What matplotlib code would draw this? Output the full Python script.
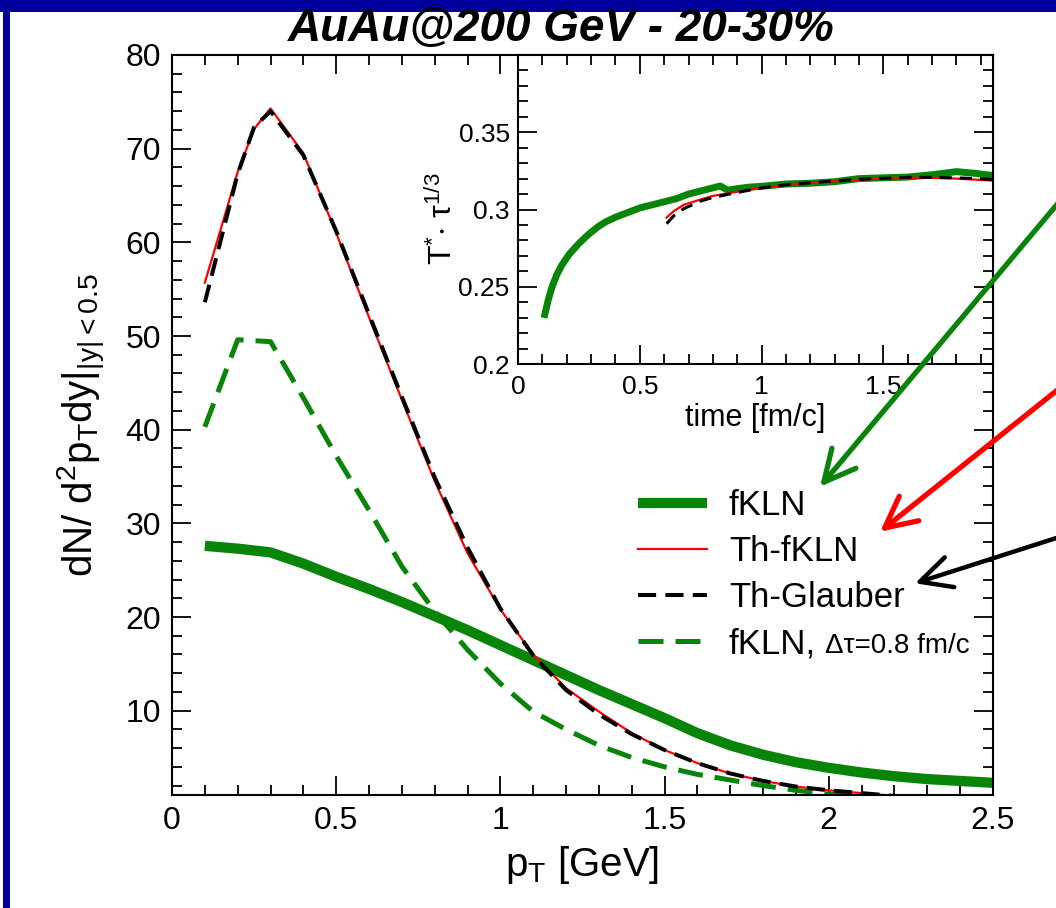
import matplotlib
matplotlib.use("Agg")
import matplotlib.pyplot as plt
from matplotlib.ticker import MultipleLocator, FormatStrFormatter, FixedLocator
from matplotlib.patches import Rectangle

plt.rcParams['font.family'] = ['Liberation Sans', 'DejaVu Sans']
plt.rcParams['mathtext.default'] = 'regular'

# spectra, pT in GeV
pt_fkln = [0.1, 0.2, 0.3, 0.4, 0.5, 0.6, 0.7, 0.8, 0.9, 1.0, 1.1, 1.2, 1.3,
           1.4, 1.5, 1.6, 1.7, 1.8, 1.9, 2.0, 2.1, 2.2, 2.3, 2.4, 2.5]
y_fkln = [27.6, 27.3, 26.9, 25.7, 24.3, 23.0, 21.6, 20.1, 18.6, 17.0, 15.4, 13.8, 12.2,
          10.7, 9.2, 7.6, 6.3, 5.3, 4.5, 3.9, 3.4, 3.0, 2.7, 2.5, 2.3]

pt_th = [0.1, 0.2, 0.25, 0.3, 0.4, 0.5, 0.6, 0.7, 0.8, 0.9, 1.0, 1.1, 1.2,
         1.3, 1.4, 1.5, 1.6, 1.7, 1.8, 1.9, 2.0, 2.1, 2.2]
y_thfkln = [55.7, 67.5, 72.1, 74.3, 69.5, 61.0, 52.0, 43.2, 34.5, 26.8, 20.8, 16.0, 12.4,
            9.9, 7.6, 5.8, 4.4, 3.3, 2.5, 1.9, 1.5, 1.2, 0.9]
y_thglau = [53.6, 67.3, 72.3, 74.0, 69.3, 61.2, 52.3, 43.5, 34.9, 27.4, 20.9, 15.9, 12.2,
            9.6, 7.5, 5.8, 4.4, 3.3, 2.5, 1.9, 1.5, 1.2, 0.9]

pt_dt = [0.1, 0.2, 0.3, 0.4, 0.5, 0.6, 0.7, 0.8, 0.9, 1.0, 1.1, 1.2, 1.3,
         1.4, 1.5, 1.6, 1.7, 1.8, 1.9, 2.0, 2.1]
y_dt = [40.3, 49.6, 49.4, 43.4, 37.2, 31.4, 25.4, 20.6, 16.5, 12.9, 9.9, 8.0, 6.3,
        5.0, 4.0, 3.2, 2.6, 2.0, 1.5, 1.1, 0.8]

# inset: T* tau^(1/3) vs time
t_fkln = [0.11, 0.125, 0.14, 0.16, 0.18, 0.21, 0.25, 0.29, 0.33, 0.36, 0.40, 0.45, 0.50,
          0.55, 0.60, 0.65, 0.70, 0.75, 0.80, 0.83, 0.86, 0.90, 0.95, 1.00, 1.10, 1.20,
          1.30, 1.40, 1.50, 1.60, 1.70, 1.80, 1.87, 1.95]
T_fkln = [0.232, 0.242, 0.250, 0.258, 0.264, 0.271, 0.278, 0.284, 0.289, 0.292, 0.295,
          0.298, 0.301, 0.303, 0.305, 0.307, 0.310, 0.312, 0.314, 0.3152, 0.3125, 0.3135,
          0.3145, 0.315, 0.3165, 0.317, 0.318, 0.320, 0.3205, 0.321, 0.3225, 0.3245,
          0.3235, 0.322]
t_th = [0.61, 0.64, 0.68, 0.75, 0.80, 0.90, 1.0, 1.1, 1.2, 1.3, 1.4, 1.5, 1.6, 1.7, 1.8, 1.95]
T_thfkln = [0.2948, 0.299, 0.303, 0.3065, 0.3088, 0.3115, 0.314, 0.316, 0.3172, 0.3183,
            0.3193, 0.320, 0.3205, 0.3205, 0.320, 0.3187]
T_thglau = [0.2908, 0.296, 0.3005, 0.3055, 0.3078, 0.311, 0.314, 0.316, 0.3173, 0.3185,
            0.3195, 0.3202, 0.3208, 0.3208, 0.3205, 0.3195]

GREEN = '#088508'
RED = '#ff0000'
BLUE = '#00009c'

W, H = 1056, 908
fig = plt.figure(figsize=(W / 100, H / 100), dpi=100)

# blue slide frame
fig.add_artist(Rectangle((0, 1 - 12 / H), 1, 12 / H, transform=fig.transFigure,
                         color=BLUE, lw=0, zorder=0))
fig.add_artist(Rectangle((3 / W, 0), 7 / W, 1, transform=fig.transFigure,
                         color=BLUE, lw=0, zorder=0))

def px_box(x0, y0, x1, y1):
    return [x0 / W, 1 - y1 / H, (x1 - x0) / W, (y1 - y0) / H]

def style_axes(a, size, lw=1.5):
    for s in a.spines.values():
        s.set_linewidth(lw)
    a.tick_params(which='both', direction='in', top=True, right=True, width=1.3)
    a.tick_params(which='major', length=14, labelsize=size)
    a.tick_params(which='minor', length=7)

ax = fig.add_axes(px_box(172, 55, 993, 795))
ax.plot(pt_fkln, y_fkln, color=GREEN, lw=7.4, solid_capstyle='butt', label='fKLN')
ax.plot(pt_dt, y_dt, color=GREEN, lw=3.6, dashes=(5, 2.4), label='fKLN,')
ax.plot(pt_th, y_thfkln, color=RED, lw=1.6, label='Th-fKLN')
ax.plot(pt_th, y_thglau, color='black', lw=2.9, dashes=(4.5, 2.3), label='Th-Glauber')
ax.set_xlim(0, 2.5)
ax.set_ylim(1, 80)
ax.xaxis.set_major_locator(MultipleLocator(0.5))
ax.xaxis.set_minor_locator(MultipleLocator(0.1))
ax.xaxis.set_major_formatter(FormatStrFormatter('%g'))
ax.yaxis.set_major_locator(FixedLocator([10, 20, 30, 40, 50, 60, 70, 80]))
ax.yaxis.set_minor_locator(MultipleLocator(2))
style_axes(ax, 23)
ax.tick_params(axis='both', which='major', pad=8)
ax.set_xlabel('p$_{T}$ [GeV]', fontsize=29)
ax.xaxis.set_label_coords(0.5, -0.066)
ax.set_ylabel('dN/ d$^{2}$p$_{T}$dy|$_{|y|<0.5}$', fontsize=29)
ax.yaxis.set_label_coords(-0.078, 0.5)

h, l = ax.get_legend_handles_labels()
order = [0, 2, 3, 1]
leg = ax.legend([h[i] for i in order], [l[i] for i in order], loc='upper left',
                bbox_to_anchor=((638 - 172) / 821, (795 - 489) / 740), frameon=False,
                fontsize=25, handlelength=2.0, handletextpad=0.62, labelspacing=0.38,
                borderpad=0, borderaxespad=0)

# inset
ins = fig.add_axes(px_box(518, 55, 993, 364))
ins.plot(t_fkln, T_fkln, color=GREEN, lw=5)
ins.plot(t_th, T_thfkln, color=RED, lw=1.6)
ins.plot(t_th, T_thglau, color='black', lw=2.2, dashes=(4, 2.6))
ins.set_xlim(0, 1.95)
ins.set_ylim(0.2, 0.4)
ins.xaxis.set_major_locator(FixedLocator([0, 0.5, 1, 1.5]))
ins.xaxis.set_minor_locator(MultipleLocator(0.1))
ins.xaxis.set_major_formatter(FormatStrFormatter('%g'))
ins.yaxis.set_major_locator(FixedLocator([0.2, 0.25, 0.3, 0.35]))
ins.yaxis.set_minor_locator(MultipleLocator(0.01))
ins.yaxis.set_major_formatter(FormatStrFormatter('%g'))
style_axes(ins, 19)
ins.tick_params(axis='x', which='major', pad=8)
ins.tick_params(axis='y', which='major', pad=6)
ins.set_xlabel('time [fm/c]', fontsize=22)
ins.xaxis.set_label_coords(0.5, -0.125)
ins.set_ylabel('T$^{*}$$\\cdot$ τ$^{1/3}$', fontsize=23)
ins.yaxis.set_label_coords(-0.125, 0.47)

fig.text(561 / W, 1 - 29 / H, 'AuAu@200 GeV - 20-30%', fontsize=33,
         fontweight='bold', fontstyle='italic', ha='center', va='center')

# small "delta tau" text after the last legend label
fig.canvas.draw()
r = fig.canvas.get_renderer()
bb = leg.get_texts()[3].get_window_extent(r)
fig.text((bb.x1 + 9) / W, (bb.y0 + 0.21 * 25 * 100 / 72) / H, 'Δτ=0.8 fm/c',
         fontsize=20, ha='left', va='baseline')

# arrows pointing at the legend entries, drawn on top of the inset
arrows = [((820, 486.7), (1075, 183), GREEN, 3.8),
          ((880, 531.7), (1075, 376), RED, 3.8),
          ((915, 583.3), (1075, 532), 'black', 3.2)]
for tip, tail, c, w in arrows:
    ann = ins.annotate('', xy=(tip[0], H - tip[1]), xycoords='figure pixels',
                       xytext=(tail[0], H - tail[1]), textcoords='figure pixels',
                       annotation_clip=False, zorder=10,
                       arrowprops=dict(arrowstyle='->,head_length=0.9,head_width=0.45',
                                       mutation_scale=25, color=c, lw=w,
                                       shrinkA=0, shrinkB=0))
    ann.arrow_patch.set_clip_on(False)

fig.savefig('out.png', dpi=100, facecolor='white')
